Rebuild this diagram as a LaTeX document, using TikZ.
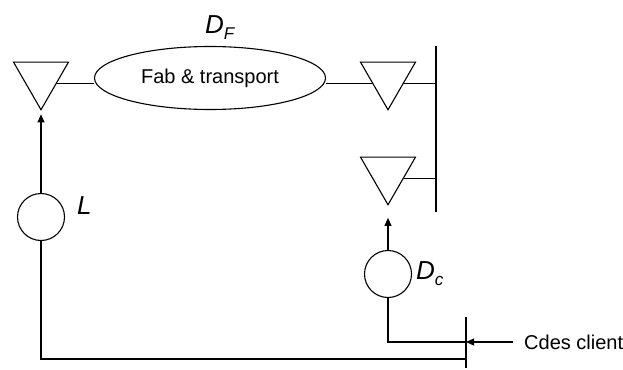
\documentclass[tikz,border=0pt]{standalone}
\usepackage{fontspec}
\setmainfont{Liberation Sans}
\usetikzlibrary{arrows.meta,positioning,shapes.geometric}

\newcommand{\lowsub}[1]{\raisebox{-6pt}{\fontsize{17}{17}\selectfont #1}}

\begin{document}
\begin{tikzpicture}[
  x=1pt, y=-1pt,
  stock/.style={regular polygon, regular polygon sides=3, shape border rotate=180, draw, line width=1.1pt, minimum size=63.5pt, inner sep=0pt},
  delay/.style={circle, draw, line width=1.1pt, minimum size=47pt, inner sep=0pt},
  proc/.style={ellipse, draw, line width=1.1pt, minimum width=231pt, minimum height=63pt, inner sep=0pt, font=\fontsize{20}{24}\selectfont},
  lbl/.style={inner sep=0pt, font=\fontsize{26}{30}\selectfont\itshape},
  txt/.style={inner sep=0pt, font=\fontsize{20}{24}\selectfont},
  link/.style={line width=1.1pt},
  flow/.style={line width=1.1pt, -{Triangle[length=8pt,width=7pt]}}
]
  \useasboundingbox (0,0) rectangle (623,369);

  % stocks and process
  \node[stock] (tri1) at (41,78) {};
  \node[proc] (fab) at (210,78) {Fab \& transport};
  \node[stock] (tri2) at (388,78) {};
  \node[stock] (tri3) at (388,173) {};
  \coordinate (bartop) at (436,46);
  \coordinate (barbot) at (436,212);

  % delays
  \node[delay] (lcirc) at (41,217) {};
  \node[delay] (dc) at (388,274) {};

  % customer orders
  \coordinate (cmdtop) at (466,317);
  \coordinate (cmdbot) at (466,368);
  \coordinate (cmdin) at (466,342);
  \coordinate (loopin) at (466,359);
  \node[txt, anchor=west] (client) at (524,342) {Cdes client};

  % labels
  \node[lbl, anchor=base west] (dflbl) at (205,34) {D\lowsub{F}};
  \node[lbl, anchor=base west] (llbl) at (77,214) {L};
  \node[lbl, anchor=base west] (dclbl) at (416,279) {D\lowsub{c}};

  \draw[link] (tri1.-18) -- (tri1.-18 -| fab.west);
  \draw[link] (tri2.198 -| fab.east) -- (tri2.198);
  \draw[link] (tri2.-18) -- (tri2.-18 -| bartop);
  \draw[link] (tri3.-18) -- (tri3.-18 -| bartop);
  \draw[link] (bartop) -- (barbot);

  \draw[flow, shorten >=3.5pt] (lcirc.north) -- (tri1.south);
  \draw[flow, shorten >=12pt] (dc.north) -- (tri3.south);
  \draw[link] (lcirc.south) |- (loopin);
  \draw[link] (dc.south) |- (cmdin);
  \draw[link] (cmdtop) -- (cmdbot);
  \draw[flow] ([xshift=-11pt]client.west) -- (cmdin);
\end{tikzpicture}
\end{document}
